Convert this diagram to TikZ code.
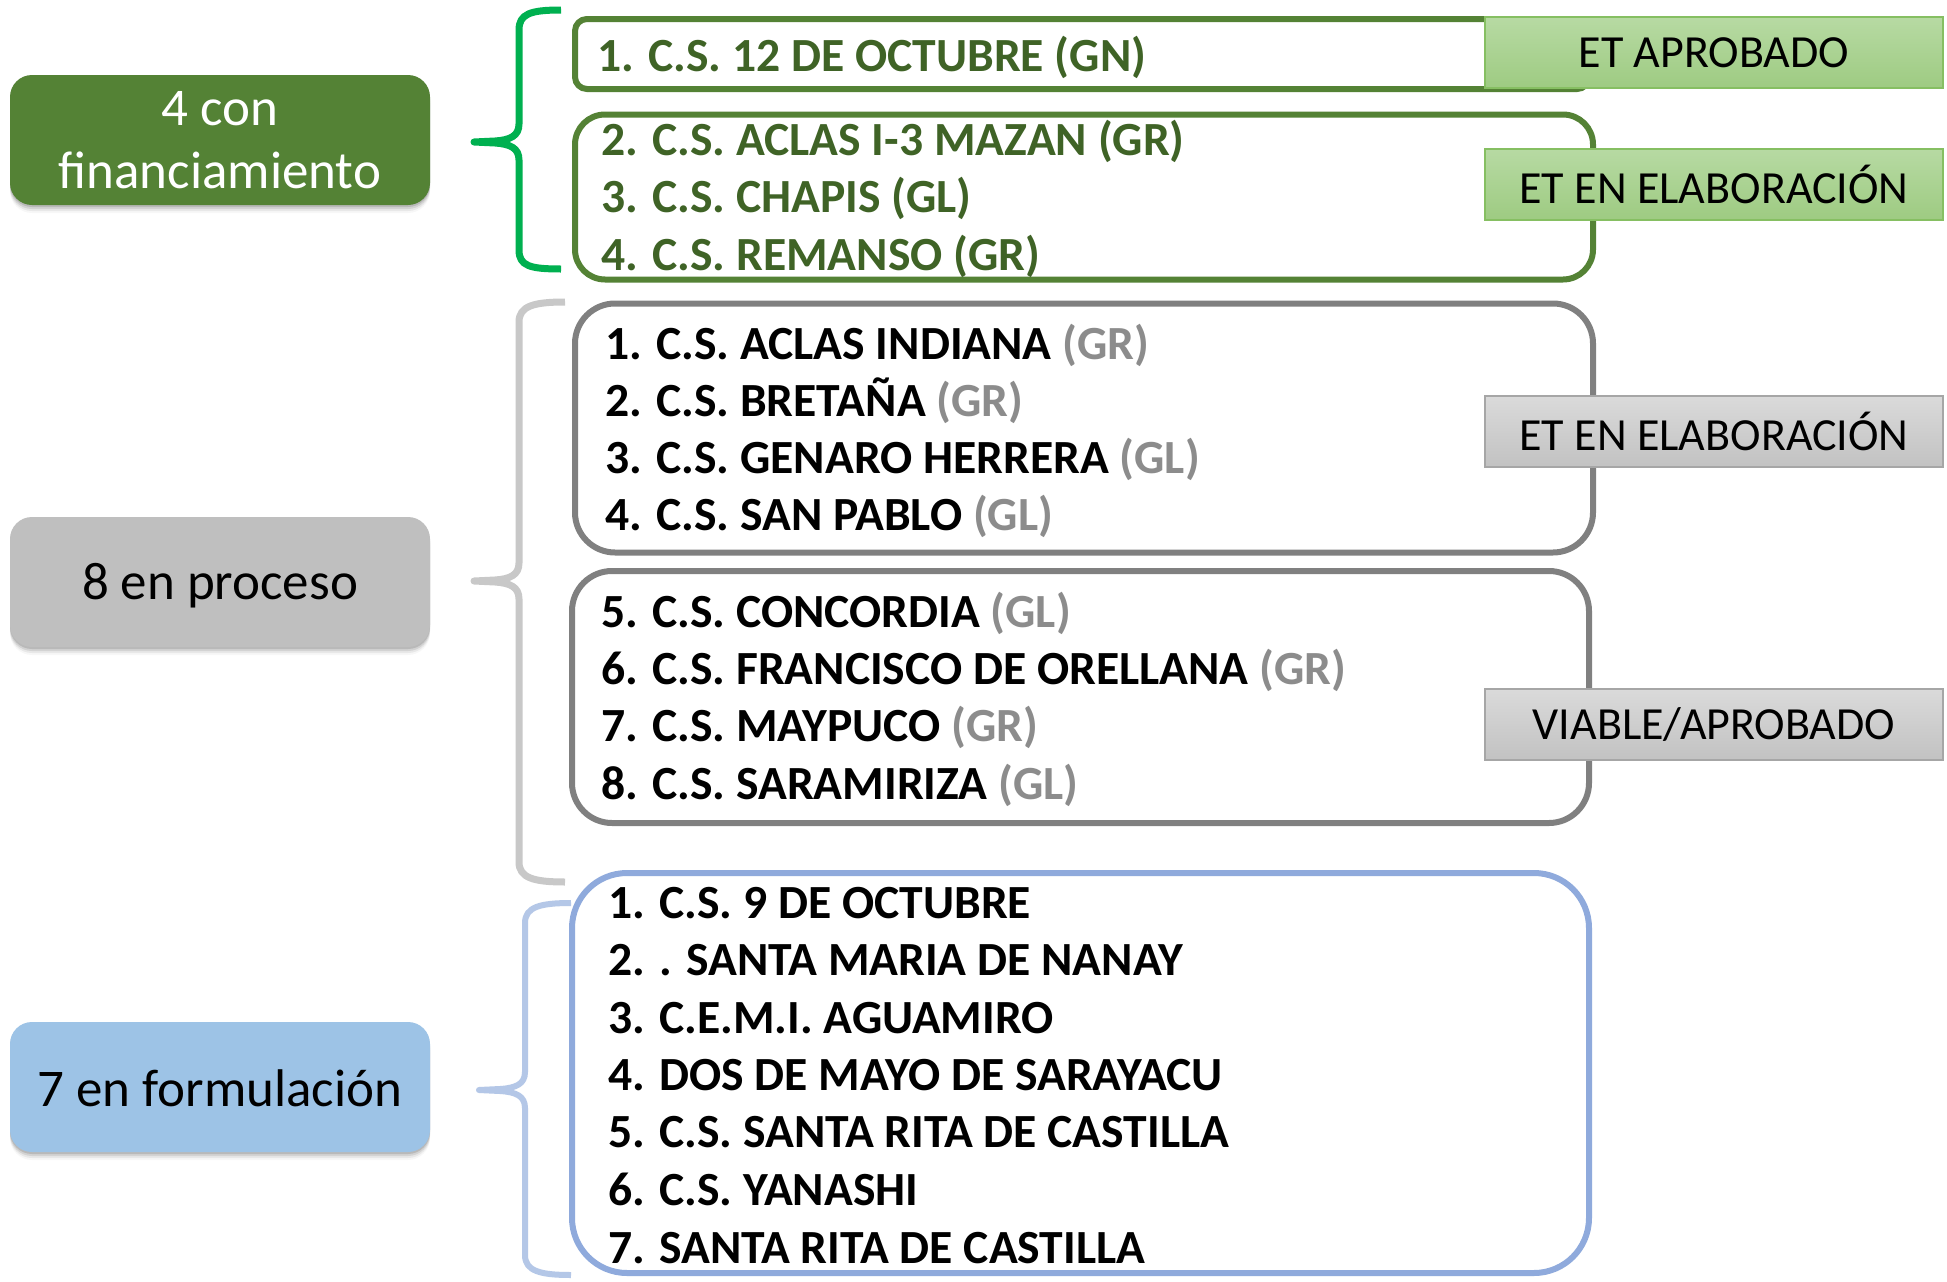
\documentclass[tikz,border=0pt]{standalone}
\usepackage{fontspec}
\setmainfont{Carlito}
\usetikzlibrary{shadows}
\definecolor{dkgreen}{HTML}{548235}
\definecolor{txgreen}{HTML}{3F6326}
\definecolor{brgreen}{HTML}{00B050}
\definecolor{brgray}{HTML}{C8C8C8}
\definecolor{brblue}{HTML}{B4C7E7}
\definecolor{ltgray}{HTML}{BFBFBF}
\definecolor{ltblue}{HTML}{9DC3E6}
\definecolor{bxgray}{HTML}{808080}
\definecolor{bxblue}{HTML}{8FAADC}
\definecolor{paren}{HTML}{8C8C8C}
\definecolor{lgtop}{HTML}{B7DAA3}
\definecolor{lgbot}{HTML}{9ECB82}
\definecolor{lgbd}{HTML}{86BF62}
\definecolor{lytop}{HTML}{DADADA}
\definecolor{lybot}{HTML}{C2C2C2}
\definecolor{lybd}{HTML}{A6A6A6}
\tikzset{
  leftbox/.style={rectangle, rounded corners=22pt, minimum width=420pt, minimum height=130pt,
    inner sep=0pt,
    drop shadow={shadow xshift=0pt, shadow yshift=-8pt, opacity=0.06},
    drop shadow={shadow xshift=0pt, shadow yshift=-6pt, opacity=0.12},
    drop shadow={shadow xshift=0pt, shadow yshift=-4pt, opacity=0.2},
    drop shadow={shadow xshift=0pt, shadow yshift=-2pt, opacity=0.3}},
  lefttext/.style={align=center, font=\fontsize{53}{63}\selectfont},
  listbox/.style={rectangle, line width=6pt, inner sep=0pt},
  listline/.style={anchor=base west, inner sep=0pt, font=\fontsize{47.6}{57}\selectfont\bfseries},
  statelabel/.style={rectangle, minimum width=458pt, minimum height=71pt, line width=2pt,
    inner sep=0pt, font=\fontsize{46}{55}\selectfont},
  greenlabel/.style={statelabel, draw=lgbd, top color=lgtop, bottom color=lgbot},
  graylabel/.style={statelabel, draw=lybd, top color=lytop, bottom color=lybot},
  brace/.style={line width=7pt, line join=round}
}
\newcommand{\gp}[1]{\textcolor{paren}{#1}}
\begin{document}
\begin{tikzpicture}[x=1pt,y=-1pt]
\useasboundingbox (0,0) rectangle (1947,1282);
\fill[white] (0,0) rectangle (1947,1282);

% left category boxes
\node[leftbox, fill=dkgreen] (lb1) at (220,140) {};
\node[lefttext, text=white] (lt1) at (lb1.center) {4 con\\financiamiento};
\node[leftbox, fill=ltgray] (lb2) at (220,582) {};
\node[lefttext, text=black] (lt2) at (220,586) {8 en proceso};
\node[leftbox, fill=ltblue] (lb3) at (220,1087) {};
\node[lefttext, text=black] (lt3) at (220,1088) {7 en formulación};

% braces
\draw[brace, brgreen] (561,10) .. controls (530,10) and (519,14) .. (519,30) -- (519,124)
  .. controls (519,136) and (510,140) .. (495,141) -- (474,142) -- (495,143)
  .. controls (510,144) and (519,148) .. (519,160) -- (519,250)
  .. controls (519,266) and (530,269) .. (561,269);
\draw[brace, brgray] (565,302) .. controls (534,302) and (519,306) .. (519,322) -- (519,563)
  .. controls (519,575) and (510,579) .. (495,580) -- (474,581) -- (495,582)
  .. controls (510,583) and (519,587) .. (519,599) -- (519,862)
  .. controls (519,878) and (534,882) .. (565,882);
\draw[brace, brblue, line width=6pt] (571,903) .. controls (540,903) and (525,907) .. (525,923) -- (525,1072)
  .. controls (525,1084) and (516,1088) .. (500,1089) -- (479,1090) -- (500,1091)
  .. controls (516,1092) and (525,1096) .. (525,1108) -- (525,1255)
  .. controls (525,1271) and (540,1275) .. (571,1275);

% list boxes
\node[listbox, draw=dkgreen, rounded corners=12pt, minimum width=1014pt, minimum height=70pt] (rb1) at (1082,54) {};
\node[listbox, draw=dkgreen, rounded corners=30pt, minimum width=1018pt, minimum height=165pt] (rb2) at (1084,197) {};
\node[listbox, draw=bxgray, rounded corners=40pt, minimum width=1018pt, minimum height=249pt] (rb3) at (1084,428) {};
\node[listbox, draw=bxgray, rounded corners=40pt, minimum width=1017pt, minimum height=252pt] (rb4) at (1080.5,697) {};
\node[listbox, draw=bxblue, rounded corners=55pt, minimum width=1017pt, minimum height=400pt] (rb5) at (1080.5,1073) {};

% list texts
\node[listline, text=txgreen] (t11) at (597,71) {1. C.S. 12 DE OCTUBRE (GN)};
\node[listline, text=txgreen] (t21) at (601,155) {2. C.S. ACLAS I-3 MAZAN (GR)};
\node[listline, text=txgreen] (t22) at (601,212) {3. C.S. CHAPIS (GL)};
\node[listline, text=txgreen] (t23) at (601,270) {4. C.S. REMANSO (GR)};
\node[listline] (t31) at (605,359) {1. C.S. ACLAS INDIANA \gp{(GR)}};
\node[listline] (t32) at (605,416) {2. C.S. BRETAÑA \gp{(GR)}};
\node[listline] (t33) at (605,473) {3. C.S. GENARO HERRERA \gp{(GL)}};
\node[listline] (t34) at (605,530) {4. C.S. SAN PABLO \gp{(GL)}};
\node[listline] (t41) at (601,627) {5. C.S. CONCORDIA \gp{(GL)}};
\node[listline] (t42) at (601,684) {6. C.S. FRANCISCO DE ORELLANA \gp{(GR)}};
\node[listline] (t43) at (601,741) {7. C.S. MAYPUCO \gp{(GR)}};
\node[listline] (t44) at (601,799) {8. C.S. SARAMIRIZA \gp{(GL)}};
\node[listline] (t51) at (608,918) {1. C.S. 9 DE OCTUBRE};
\node[listline] (t52) at (608,975) {2. . SANTA MARIA DE NANAY};
\node[listline] (t53) at (608,1033) {3. C.E.M.I. AGUAMIRO};
\node[listline] (t54) at (608,1090) {4. DOS DE MAYO DE SARAYACU};
\node[listline] (t55) at (608,1147) {5. C.S. SANTA RITA DE CASTILLA};
\node[listline] (t56) at (608,1205) {6. C.S. YANASHI};
\node[listline] (t57) at (608,1263) {7. SANTA RITA DE CASTILLA};

% state labels
\node[greenlabel] (s1) at (1714,52.5) {ET APROBADO};
\node[greenlabel] (s2) at (1714,184) {ET EN ELABORACIÓN};
\node[graylabel] (s3) at (1714,431.5) {ET EN ELABORACIÓN};
\node[graylabel] (s4) at (1714,724.5) {VIABLE/APROBADO};
\end{tikzpicture}
\end{document}
